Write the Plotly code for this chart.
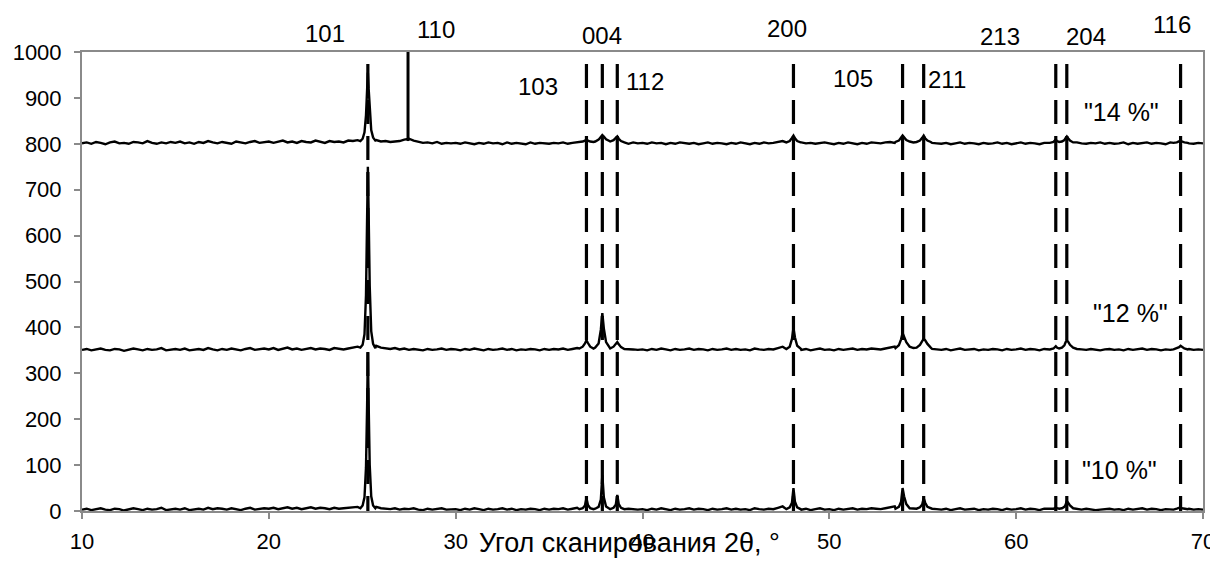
import numpy as np
import plotly.graph_objects as go

# ---------------- data ----------------
# baseline sampling grid, 2theta (deg), 10..70 step 0.25
base_angles = np.round(np.arange(10.0, 70.0001, 0.25), 2)

base_14 = [
    801,803,800,804,802,799,803,805,801,802,800,804,803,801,806,802,800,803,801,804,
    802,805,801,803,800,804,802,806,803,801,804,802,800,805,803,801,804,806,802,803,
    805,802,804,807,803,805,802,806,804,803,807,805,802,806,804,805,803,807,806,808,
    810,815,820,808,805,806,804,805,806,809,811,807,804,802,803,801,804,800,802,801,
    802,800,803,801,799,802,800,803,801,802,799,803,800,802,801,799,803,800,802,801,
    800,802,801,803,800,802,803,801,804,802,805,803,806,804,803,801,802,800,803,801,
    802,800,803,801,802,799,802,800,803,801,800,802,799,801,803,800,802,801,799,802,
    800,803,801,799,802,800,803,801,802,804,806,803,802,800,803,801,802,800,801,803,
    801,799,802,800,803,801,799,802,800,803,802,801,803,804,802,805,806,804,803,802,
    805,803,802,801,800,802,799,801,803,800,802,801,799,802,800,801,803,800,802,799,
    801,803,800,802,801,799,802,803,804,803,805,804,802,803,801,800,802,801,803,800,
    802,800,801,803,799,802,800,801,803,800,802,801,799,803,802,804,803,801,800,802,
    801]

base_12 = [
    351,353,350,352,354,351,350,353,352,349,351,354,352,350,353,351,352,355,350,352,
    353,351,354,350,352,353,351,355,352,350,353,351,354,352,350,353,355,351,352,354,
    352,355,351,353,356,352,354,351,353,355,352,354,353,351,355,353,352,354,356,358,
    362,370,375,360,356,354,353,355,352,354,351,353,352,350,353,351,352,354,351,353,
    352,350,353,351,354,352,350,353,351,352,354,351,353,350,352,351,353,352,350,353,
    351,353,352,354,351,353,355,354,357,360,362,365,364,362,360,356,355,353,352,351,
    352,350,353,351,354,352,350,353,351,352,354,351,353,352,350,353,351,352,354,351,
    353,351,352,350,354,352,351,353,352,355,358,356,353,352,351,353,350,352,354,351,
    352,350,353,351,352,354,351,353,352,354,353,352,354,356,358,360,358,356,355,354,
    356,355,353,352,351,353,350,352,354,351,352,353,350,352,351,353,352,350,353,351,
    352,354,351,353,352,350,353,354,355,356,358,357,355,353,352,351,353,352,350,352,
    353,351,352,350,353,351,352,354,351,353,352,350,352,351,353,352,355,353,351,352,
    351]

base_10 = [
    3,5,2,4,6,3,2,5,4,1,3,6,4,2,5,3,4,7,2,4,
    5,3,6,2,4,5,3,7,4,6,5,3,6,4,2,5,7,3,4,6,
    5,7,4,6,8,5,7,4,6,8,5,7,6,4,7,5,6,7,8,9,
    12,20,15,9,6,5,4,6,3,5,4,6,3,2,5,3,4,6,3,4,
    4,2,5,3,6,4,2,5,3,4,6,3,5,2,4,3,5,4,2,5,
    3,5,4,6,3,5,7,6,9,12,15,18,16,12,10,7,6,5,4,3,
    4,2,5,3,6,4,2,5,3,4,6,3,5,4,2,5,3,4,6,3,
    5,3,4,2,6,4,3,5,4,7,10,8,5,4,3,5,2,4,6,3,
    4,2,5,3,4,6,3,5,4,6,5,4,6,8,10,12,9,7,6,5,
    7,6,5,4,3,5,2,4,6,3,4,5,2,4,3,5,4,2,5,3,
    4,6,3,5,4,2,5,6,7,8,9,7,5,4,3,5,4,2,3,4,
    5,3,4,2,5,3,4,6,3,5,4,2,4,3,5,6,4,5,3,4,
    3]

# anatase reflections (hkl) and their positions, 2theta
hkl_labels = ["101", "103", "004", "112", "200", "105", "211", "213", "204", "116"]
hkl_angles = [25.30, 37.00, 37.85, 38.65, 48.08, 53.92, 55.05, 62.12, 62.71, 68.80]
rutile_label = "110"
rutile_angle = 27.45
rutile_counts = [806, 1000]
hkl_line_counts = [974, 0]

# peak profile samples (shared angles, per-sample counts)
peak_angles = [
    24.90,25.02,25.12,25.20,25.26,25.30,25.34,25.40,25.48,25.58,25.70,
    36.62,36.80,36.92,37.00,37.08,37.20,37.38,
    37.47,37.65,37.77,37.85,37.93,38.05,38.23,
    38.27,38.45,38.57,38.65,38.73,38.85,39.03,
    47.70,47.88,48.00,48.08,48.16,48.28,48.46,
    53.54,53.72,53.84,53.92,54.00,54.12,54.30,
    54.67,54.85,54.97,55.05,55.13,55.25,55.43,
    61.80,62.00,62.08,62.12,62.18,62.30,
    62.45,62.58,62.65,62.71,62.78,62.88,63.05,
    68.42,68.60,68.72,68.80,68.88,69.00,69.18]

peak_14 = [
    806,811,825,862,920,955,922,870,830,814,807,
    803,805,807,809,807,805,804,
    805,809,815,819,816,810,806,
    805,808,813,816,811,806,803,
    803,806,813,818,812,806,803,
    804,807,813,818,814,808,805,
    804,807,813,818,812,807,804,
    802,804,807,809,806,804,
    805,808,813,816,812,807,803,
    802,803,805,807,805,803,802]

peak_12 = [
    356,362,385,470,640,750,655,490,392,364,355,
    354,358,365,372,366,358,354,
    356,365,395,431,398,368,356,
    354,358,364,368,363,357,353,
    353,358,375,399,378,360,354,
    355,361,374,388,380,368,358,
    356,362,370,375,372,364,356,
    352,354,357,359,356,354,
    356,361,368,372,369,362,356,
    352,354,357,360,357,354,352]

peak_10 = [
    6,12,30,95,230,345,240,100,32,12,6,
    4,6,12,28,13,6,4,
    5,9,25,78,30,10,6,
    4,7,14,35,15,7,4,
    4,8,18,50,20,8,4,
    5,9,20,50,32,15,6,
    5,8,14,28,18,9,5,
    4,5,6,8,6,5,
    6,9,14,22,18,12,6,
    3,5,6,8,6,5,4]

series_names = ['"14 %"', '"12 %"', '"10 %"']

# ---------------- build ----------------
keep = np.array([all(abs(a - c) > 0.42 for c in hkl_angles) for a in base_angles])


def assemble(base, peak):
    xs = np.concatenate([base_angles[keep], np.array(peak_angles)])
    ys = np.concatenate([np.array(base)[keep], np.array(peak)])
    order = np.argsort(xs, kind="stable")
    return xs[order], ys[order]


FONT = "Arial, Liberation Sans, sans-serif"
GRAY = "#8a8a8a"

fig = go.Figure()
for name, base, peak in [(series_names[0], base_14, peak_14),
                         (series_names[1], base_12, peak_12),
                         (series_names[2], base_10, peak_10)]:
    x, y = assemble(base, peak)
    fig.add_trace(go.Scatter(x=x, y=y, mode="lines", name=name,
                             line=dict(color="black", width=2.4),
                             showlegend=False, hoverinfo="skip"))

# rutile 110 marker (solid)
fig.add_trace(go.Scatter(x=[rutile_angle, rutile_angle], y=rutile_counts, mode="lines",
                         line=dict(color="black", width=3), showlegend=False,
                         hoverinfo="skip", cliponaxis=False))

# anatase reference lines (dashed)
for a in hkl_angles:
    fig.add_shape(type="line", xref="x", yref="y", x0=a, x1=a,
                  y0=hkl_line_counts[0], y1=hkl_line_counts[1],
                  line=dict(color="black", width=3.2, dash="24px,12px"),
                  layer="above")

# ---------------- labels ----------------
# positions: x in data units, y in paper units (1 = top of plot frame)
label_pos = {
    "101": (23.00, 1.041), "110": (28.95, 1.050), "004": (37.83, 1.037),
    "200": (47.73, 1.052), "213": (59.13, 1.033), "204": (63.74, 1.033),
    "116": (68.34, 1.059), "103": (34.41, 0.924), "112": (40.13, 0.935),
    "105": (51.27, 0.943), "211": (56.30, 0.939),
}
for txt, (lx, ly) in label_pos.items():
    fig.add_annotation(x=lx, y=ly, xref="x", yref="paper", text=txt, showarrow=False,
                       font=dict(family=FONT, size=24, color="black"),
                       xanchor="center", yanchor="middle")

series_label_pos = [(65.66, 0.869), (66.10, 0.432), (65.55, 0.089)]
for txt, (lx, ly) in zip(series_names, series_label_pos):
    fig.add_annotation(x=lx, y=ly, xref="x", yref="paper", text=txt, showarrow=False,
                       font=dict(family=FONT, size=25, color="black"),
                       xanchor="center", yanchor="middle")

fig.add_annotation(x=39.3, y=-0.07, xref="x", yref="paper",
                   text="Угол сканирования 2θ, °", showarrow=False,
                   font=dict(family=FONT, size=27, color="black"),
                   xanchor="center", yanchor="middle")

fig.update_xaxes(range=[10, 70], dtick=10, tick0=10, showgrid=False, zeroline=False,
                 showline=True, linecolor=GRAY, linewidth=2, mirror=True,
                 ticks="outside", ticklen=6, tickcolor=GRAY, tickwidth=1.5,
                 tickfont=dict(family=FONT, size=22, color="black"),
                 ticklabelstandoff=4, automargin=False)
fig.update_yaxes(range=[0, 1000], dtick=100, showgrid=False, zeroline=False,
                 showline=True, linecolor=GRAY, linewidth=2, mirror=True,
                 ticks="outside", ticklen=6, tickcolor=GRAY, tickwidth=1.5,
                 tickfont=dict(family=FONT, size=22, color="black"),
                 ticklabelstandoff=8, automargin=False)

# the page body adds an 8px offset; the figure is sized to compensate
fig.update_layout(width=1210, height=557, paper_bgcolor="white", plot_bgcolor="white",
                  margin=dict(l=74, r=15, t=44, b=54, autoexpand=False), showlegend=False)

fig.write_html("out.html")
